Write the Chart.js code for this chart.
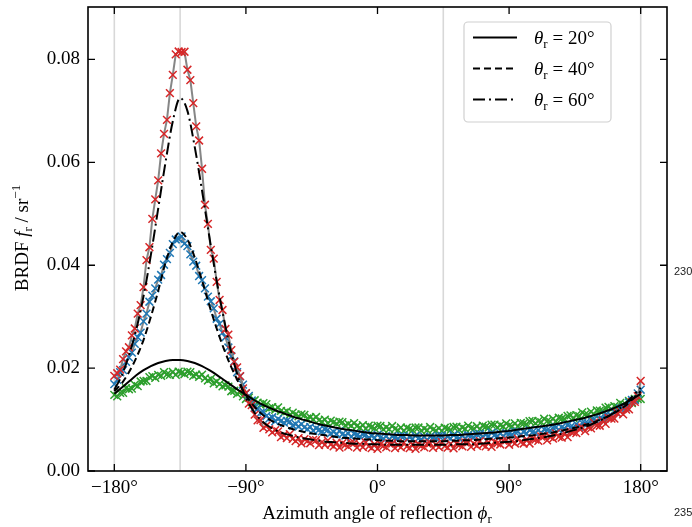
<!DOCTYPE html>
<html>
<head>
<meta charset="utf-8">
<script src="https://cdn.jsdelivr.net/npm/chart.js@4.4.0/dist/chart.umd.min.js"></script>
<style>
  html, body { margin: 0; padding: 0; background: #fff; }
  #wrap { width: 692px; height: 527px; }
</style>
</head>
<body>
<div id="wrap"><canvas id="brdf" width="692" height="527"></canvas></div>
<script>
// measured azimuth angles (deg)
const phiData = [
  -180, -178, -176, -174, -172, -170, -168, -166, -164, -162, -160, -158, -156,
  -154, -152, -150, -148, -146, -144, -142, -140, -138, -136, -134, -132, -130,
  -128, -126, -124, -122, -120, -118, -116, -114, -112, -110, -108, -106, -104,
  -102, -100, -98, -96, -94, -92, -90, -88, -86, -84, -82, -80, -78,
  -76, -74, -72, -70, -68, -66, -64, -62, -60, -58, -56, -54,
  -52, -50, -48, -46, -44, -42, -40, -38, -36, -34, -32, -30,
  -28, -26, -24, -22, -20, -18, -16, -14, -12, -10, -8, -6,
  -4, -2, 0, 2, 4, 6, 8, 10, 12, 14, 16, 18,
  20, 22, 24, 26, 28, 30, 32, 34, 36, 38, 40, 42,
  44, 46, 48, 50, 52, 54, 56, 58, 60, 62, 64, 66,
  68, 70, 72, 74, 76, 78, 80, 82, 84, 86, 88, 90,
  92, 94, 96, 98, 100, 102, 104, 106, 108, 110, 112, 114,
  116, 118, 120, 122, 124, 126, 128, 130, 132, 134, 136, 138,
  140, 142, 144, 146, 148, 150, 152, 154, 156, 158, 160, 162,
  164, 166, 168, 170, 172, 174, 176, 178, 180
];

// measured BRDF (sr^-1) for theta_r = 20, 40, 60 deg
const meas20 = [
  0.0148, 0.0145, 0.0152, 0.0152, 0.0161, 0.0159, 0.0160, 0.0168, 0.0165, 0.0174, 0.0175, 0.0175, 0.01825,
  0.01845, 0.0181, 0.0187, 0.0185, 0.0192, 0.0188, 0.0187, 0.01925, 0.0187, 0.0193, 0.0191, 0.01885, 0.0193,
  0.0192, 0.0185, 0.01875, 0.0183, 0.01875, 0.0180, 0.0176, 0.0179, 0.01705, 0.0174, 0.0169, 0.01645, 0.01665,
  0.0164, 0.0155, 0.0156, 0.0150, 0.0153, 0.0145, 0.0140, 0.01425, 0.0134, 0.01375, 0.0133, 0.0129, 0.0132,
  0.0130, 0.0122, 0.0124, 0.0119, 0.01235, 0.0117, 0.01135, 0.01165, 0.0109, 0.01135, 0.0110, 0.01065,
  0.0110, 0.0109, 0.0102, 0.01045, 0.01005, 0.0105, 0.0099, 0.0096, 0.0100, 0.0093, 0.0098, 0.0095,
  0.0092, 0.0096, 0.0095, 0.00885, 0.00915, 0.0088, 0.0093, 0.00875, 0.00845, 0.0089, 0.00825, 0.0088,
  0.00855, 0.0083, 0.0088, 0.00875, 0.0081, 0.0085, 0.00815, 0.00875, 0.0082, 0.00795, 0.00845, 0.0078,
  0.0084, 0.0082, 0.00795, 0.00845, 0.00845, 0.00785, 0.00825, 0.00795, 0.00855, 0.00805, 0.00785, 0.00835,
  0.0078, 0.0084, 0.0082, 0.0080, 0.00855, 0.0086, 0.0080, 0.00845, 0.0082, 0.0088, 0.00835, 0.0082,
  0.0087, 0.00815, 0.0088, 0.0086, 0.00845, 0.0090, 0.0090, 0.00845, 0.0089, 0.00865, 0.00925, 0.0088,
  0.00865, 0.00925, 0.0087, 0.00935, 0.00925, 0.0091, 0.0097, 0.00975, 0.00925, 0.0097, 0.0095, 0.01015,
  0.0097, 0.0096, 0.01015, 0.00965, 0.01035, 0.0102, 0.0101, 0.0107, 0.0108, 0.0103, 0.01085, 0.01065,
  0.0114, 0.0110, 0.0109, 0.01155, 0.01105, 0.0118, 0.01175, 0.0117, 0.0123, 0.01245, 0.0120, 0.0126,
  0.01245, 0.01325, 0.0129, 0.0129, 0.0136, 0.0132, 0.0140, 0.0140, 0.0140
];
const meas40 = [
  0.0169, 0.0177, 0.0192, 0.0196, 0.0212, 0.0221, 0.0230, 0.0247, 0.0260, 0.0269, 0.0291, 0.0306, 0.0329,
  0.0341, 0.0355, 0.0372, 0.0381, 0.0401, 0.0412, 0.0424, 0.0441, 0.0450, 0.0451, 0.0456, 0.0442, 0.0437,
  0.0421, 0.0407, 0.0399, 0.0379, 0.0371, 0.0355, 0.0339, 0.0330, 0.0316, 0.0296, 0.0286, 0.0269, 0.0260,
  0.0240, 0.0223, 0.0213, 0.0192, 0.0184, 0.0168, 0.0151, 0.0146, 0.0137, 0.0123, 0.0121, 0.0113, 0.0115,
  0.0107, 0.0102, 0.01045, 0.00965, 0.0101, 0.00975, 0.0094, 0.00975, 0.0096, 0.00885, 0.0091, 0.00865,
  0.0091, 0.0085, 0.00815, 0.00855, 0.00785, 0.0083, 0.0080, 0.0077, 0.0081, 0.0080, 0.0073, 0.0076,
  0.0072, 0.00775, 0.00715, 0.0069, 0.0073, 0.00665, 0.0072, 0.00695, 0.0067, 0.00715, 0.0071, 0.00645,
  0.0068, 0.0065, 0.00705, 0.0065, 0.0063, 0.00675, 0.00615, 0.0067, 0.0065, 0.0063, 0.0068, 0.00675,
  0.00615, 0.00655, 0.00625, 0.00685, 0.00635, 0.00615, 0.00665, 0.00605, 0.00665, 0.00645, 0.0063, 0.0068,
  0.0068, 0.0062, 0.00665, 0.00635, 0.0070, 0.0065, 0.00635, 0.00685, 0.0063, 0.00695, 0.0068, 0.0066,
  0.00715, 0.0072, 0.00665, 0.00705, 0.0068, 0.00745, 0.00695, 0.0068, 0.0073, 0.00675, 0.00735, 0.0072,
  0.00705, 0.0076, 0.00765, 0.0071, 0.00755, 0.0073, 0.00795, 0.00755, 0.0074, 0.00795, 0.0074, 0.0081,
  0.00795, 0.00785, 0.0084, 0.0085, 0.0080, 0.0085, 0.00825, 0.00895, 0.00855, 0.00845, 0.0091, 0.0086,
  0.00935, 0.0093, 0.00925, 0.0099, 0.01005, 0.0096, 0.0102, 0.0101, 0.01095, 0.01065, 0.0107, 0.0115,
  0.0112, 0.01215, 0.01225, 0.0124, 0.01335, 0.0138, 0.0138, 0.0151, 0.0158
];
const meas60 = [
  0.0185, 0.0190, 0.0197, 0.02175, 0.02325, 0.02405, 0.02635, 0.0277, 0.0306, 0.03225, 0.03575, 0.0410, 0.0435,
  0.0490, 0.0528, 0.0565, 0.06175, 0.06555, 0.06825, 0.07345, 0.0770, 0.0810, 0.08155, 0.08145, 0.0815, 0.0780,
  0.0760, 0.0715, 0.0670, 0.06425, 0.05875, 0.05175, 0.04805, 0.0430, 0.0413, 0.03675, 0.03325, 0.0313, 0.0276,
  0.0265, 0.0235, 0.0212, 0.02015, 0.01845, 0.01605, 0.01515, 0.0131, 0.0128, 0.01095, 0.00985, 0.0099, 0.0084,
  0.0088, 0.0081, 0.0075, 0.00795, 0.0077, 0.0066, 0.0070, 0.0064, 0.00715, 0.00625, 0.0058, 0.0064,
  0.0054, 0.0062, 0.0058, 0.0054, 0.00605, 0.0060, 0.00505, 0.0056, 0.0051, 0.00595, 0.00515, 0.0048,
  0.0055, 0.00455, 0.0054, 0.0051, 0.00475, 0.0055, 0.00545, 0.00455, 0.00515, 0.00465, 0.00555, 0.0048,
  0.00445, 0.0052, 0.0043, 0.0052, 0.0049, 0.0046, 0.00535, 0.00535, 0.00445, 0.00505, 0.0046, 0.0055,
  0.00475, 0.00445, 0.0052, 0.0043, 0.0052, 0.0049, 0.0046, 0.00535, 0.0054, 0.0045, 0.0051, 0.00465,
  0.0056, 0.00485, 0.00455, 0.0053, 0.0044, 0.00535, 0.00505, 0.0048, 0.00555, 0.00555, 0.0047, 0.0053,
  0.0049, 0.0058, 0.0051, 0.0048, 0.0056, 0.0047, 0.00565, 0.0054, 0.00515, 0.0059, 0.00595, 0.0051,
  0.00575, 0.00535, 0.0063, 0.0056, 0.00535, 0.00615, 0.00535, 0.0063, 0.0061, 0.00585, 0.0067, 0.00675,
  0.00595, 0.00665, 0.0063, 0.0073, 0.00665, 0.0065, 0.00735, 0.0066, 0.00765, 0.0075, 0.00735, 0.00825,
  0.00845, 0.00775, 0.00855, 0.0083, 0.0094, 0.00885, 0.0088, 0.0098, 0.00915, 0.0103, 0.0102, 0.0102,
  0.01125, 0.01155, 0.0110, 0.01195, 0.0120, 0.0134, 0.01345, 0.01455, 0.0175
];

// fitted model curves (deg, sr^-1)
const phiModel = [
  -180, -175, -170, -165, -160, -155, -150, -145, -140, -135, -130, -125, -120, -115, -110, -105, -100, -95, -90,
  -85, -80, -75, -70, -65, -60, -55, -50, -45, -40, -35, -30, -25, -20, -15, -10, -5, 0,
  5, 10, 15, 20, 25, 30, 35, 40, 45, 50, 55, 60, 65, 70, 75, 80, 85, 90,
  95, 100, 105, 110, 115, 120, 125, 130, 135, 140, 145, 150, 155, 160, 165, 170, 175, 180
];
const model20 = [
  0.0150, 0.0162, 0.0174, 0.0186, 0.0196, 0.0204, 0.0210, 0.0214, 0.0216, 0.0216, 0.0214, 0.0210, 0.0204, 0.0196, 0.0187, 0.0177, 0.0167, 0.0157, 0.0148,
  0.0139, 0.0131, 0.0124, 0.0118, 0.0113, 0.0108, 0.0103, 0.0099, 0.0095, 0.0091, 0.0088, 0.0085, 0.0082, 0.0080, 0.0078, 0.0076, 0.0074, 0.0073,
  0.0072, 0.0071, 0.0070, 0.0070, 0.0069, 0.0069, 0.0069, 0.0069, 0.0069, 0.0070, 0.0070, 0.0071, 0.0072, 0.0073, 0.0074, 0.0075, 0.0077, 0.0078,
  0.0080, 0.0082, 0.0084, 0.0086, 0.0088, 0.0090, 0.0093, 0.0096, 0.0099, 0.0102, 0.0106, 0.0110, 0.0115, 0.0120, 0.0126, 0.0133, 0.0141, 0.0150
];
const model40 = [
  0.0155, 0.0170, 0.0192, 0.0220, 0.0255, 0.0300, 0.0350, 0.0405, 0.0445, 0.0465, 0.0450, 0.0415, 0.0370, 0.0322, 0.0277, 0.0237, 0.0202, 0.0172, 0.0147,
  0.0128, 0.0113, 0.0102, 0.0094, 0.0088, 0.0083, 0.0079, 0.0076, 0.0073, 0.0071, 0.0069, 0.0067, 0.0065, 0.0064, 0.0063, 0.0062, 0.0061, 0.0060,
  0.0059, 0.0059, 0.0058, 0.0058, 0.0058, 0.0058, 0.0058, 0.0058, 0.0058, 0.0059, 0.0059, 0.0060, 0.0060, 0.0061, 0.0062, 0.0063, 0.0064, 0.0065,
  0.0066, 0.0068, 0.0069, 0.0071, 0.0073, 0.0075, 0.0078, 0.0081, 0.0084, 0.0088, 0.0092, 0.0097, 0.0103, 0.0110, 0.0118, 0.0128, 0.0141, 0.0155
];
const model60 = [
  0.0158, 0.0185, 0.0225, 0.0275, 0.0340, 0.0420, 0.0510, 0.0600, 0.0680, 0.0725, 0.0700, 0.0630, 0.0545, 0.0455, 0.0370, 0.0295, 0.0230, 0.0180, 0.0143,
  0.0117, 0.0100, 0.0088, 0.0080, 0.0074, 0.0070, 0.0066, 0.0063, 0.0061, 0.0059, 0.0057, 0.0056, 0.0055, 0.0054, 0.0053, 0.0053, 0.0052, 0.0052,
  0.0051, 0.0051, 0.0051, 0.0051, 0.0051, 0.0051, 0.0051, 0.0051, 0.0051, 0.0051, 0.0052, 0.0052, 0.0052, 0.0053, 0.0054, 0.0055, 0.0056, 0.0057,
  0.0058, 0.0060, 0.0062, 0.0064, 0.0066, 0.0069, 0.0072, 0.0076, 0.0080, 0.0084, 0.0089, 0.0095, 0.0102, 0.0110, 0.0120, 0.0132, 0.0147, 0.0162
];

const xTicks = [-180, -90, 0, 90, 180];
const yTicks = [0, 0.02, 0.04, 0.06, 0.08];
const guideLines = [-180, -135, 45, 180];
const legendAngles = ['20', '40', '60'];
const legendDashes = [[], [7, 4], [12, 4, 2, 4]];

const SERIF = '"Liberation Serif", "DejaVu Serif", serif';
const FONT = '19px ' + SERIF;
const IFONT = 'italic 19px ' + SERIF;
const SFONT = '13px ' + SERIF;

function pts(xs, ys) {
  return xs.map((v, i) => ({ x: v, y: ys[i] }));
}

function measDataset(ys, color, order) {
  return {
    data: pts(phiData, ys),
    showLine: true,
    borderColor: 'rgba(128,128,128,0.95)',
    borderWidth: 2,
    tension: 0,
    pointStyle: 'crossRot',
    pointRadius: 5.5,
    pointBorderWidth: 1.5,
    pointBorderColor: color,
    pointBackgroundColor: color,
    order: order
  };
}

function modelDataset(ys, dash) {
  return {
    data: pts(phiModel, ys),
    showLine: true,
    borderColor: '#000',
    borderWidth: 2,
    borderDash: dash,
    pointRadius: 0,
    tension: 0.4,
    cubicInterpolationMode: 'monotone',
    order: 0
  };
}

// writes parts side by side; x is the center (or left edge), y the baseline
function richText(ctx, parts, x, y, align) {
  const widths = parts.map(p => { ctx.font = p.font; return ctx.measureText(p.t).width; });
  const total = widths.reduce((a, b) => a + b, 0);
  let cx = align === 'left' ? x : x - total / 2;
  ctx.textAlign = 'left';
  ctx.textBaseline = 'alphabetic';
  parts.forEach((p, i) => {
    ctx.font = p.font;
    ctx.fillText(p.t, cx, y + (p.dy || 0));
    cx += widths[i];
  });
}

const decor = {
  id: 'decor',
  beforeDatasetsDraw(chart) {
    const { ctx, chartArea: a, scales: { x } } = chart;
    ctx.save();
    ctx.strokeStyle = '#d8d8d8';
    ctx.lineWidth = 1.6;
    guideLines.forEach(v => {
      const px = x.getPixelForValue(v);
      ctx.beginPath();
      ctx.moveTo(px, a.top);
      ctx.lineTo(px, a.bottom);
      ctx.stroke();
    });
    ctx.restore();
  },
  afterDatasetsDraw(chart) {
    const { ctx, chartArea: a, scales: { x, y } } = chart;
    ctx.save();
    // frame
    ctx.strokeStyle = '#000';
    ctx.lineWidth = 1.6;
    ctx.strokeRect(a.left, a.top, a.right - a.left, a.bottom - a.top);
    // inward ticks on all four sides
    const tl = 7;
    ctx.lineWidth = 1.3;
    ctx.beginPath();
    xTicks.forEach(v => {
      const px = x.getPixelForValue(v);
      ctx.moveTo(px, a.bottom); ctx.lineTo(px, a.bottom - tl);
      ctx.moveTo(px, a.top); ctx.lineTo(px, a.top + tl);
    });
    yTicks.forEach(v => {
      const py = y.getPixelForValue(v);
      ctx.moveTo(a.left, py); ctx.lineTo(a.left + tl, py);
      ctx.moveTo(a.right, py); ctx.lineTo(a.right - tl, py);
    });
    ctx.stroke();

    // legend
    const bx = 464, by = 22, bw = 147, bh = 100;
    ctx.beginPath();
    ctx.roundRect(bx, by, bw, bh, 4);
    ctx.fillStyle = 'rgba(255,255,255,0.85)';
    ctx.fill();
    ctx.strokeStyle = '#d0d0d0';
    ctx.lineWidth = 1.2;
    ctx.stroke();
    legendAngles.forEach((ang, i) => {
      const ly = 37.5 + i * 31;
      ctx.strokeStyle = '#000';
      ctx.lineWidth = 2;
      ctx.setLineDash(legendDashes[i]);
      ctx.beginPath();
      ctx.moveTo(473, ly);
      ctx.lineTo(517, ly);
      ctx.stroke();
      ctx.setLineDash([]);
      ctx.fillStyle = '#000';
      richText(ctx, [
        { t: 'θ', font: IFONT },
        { t: 'r', font: SFONT, dy: 4 },
        { t: ' = ' + ang + '°', font: FONT }
      ], 534, ly + 6.5, 'left');
    });
    ctx.restore();
  },
  afterDraw(chart) {
    const { ctx } = chart;
    ctx.save();
    ctx.fillStyle = '#000';
    // x axis title
    richText(ctx, [
      { t: 'Azimuth angle of reflection ', font: FONT },
      { t: 'ϕ', font: IFONT },
      { t: 'r', font: SFONT, dy: 4 }
    ], 377, 519);
    // y axis title
    ctx.translate(28, 238);
    ctx.rotate(-Math.PI / 2);
    richText(ctx, [
      { t: 'BRDF ', font: FONT },
      { t: 'f', font: IFONT },
      { t: 'r', font: SFONT, dy: 4 },
      { t: ' / sr', font: FONT },
      { t: '−1', font: SFONT, dy: -8 }
    ], 0, 0);
    ctx.restore();
    // page line numbers
    ctx.save();
    ctx.fillStyle = '#222';
    ctx.font = '11px "Liberation Sans", sans-serif';
    ctx.textBaseline = 'middle';
    ctx.fillText('230', 674, 272);
    ctx.fillText('235', 674, 513);
    ctx.restore();
  }
};

new Chart(document.getElementById('brdf'), {
  type: 'scatter',
  data: {
    datasets: [
      modelDataset(model20, []),
      modelDataset(model40, [7, 4]),
      modelDataset(model60, [12, 4, 2, 4]),
      measDataset(meas60, '#d62728', 1),
      measDataset(meas40, '#1f77b4', 2),
      measDataset(meas20, '#2ca02c', 3)
    ]
  },
  options: {
    responsive: false,
    devicePixelRatio: 1,
    animation: false,
    layout: { padding: { top: 6, right: 25, left: 0, bottom: 0 } },
    plugins: {
      legend: { display: false },
      tooltip: { enabled: false }
    },
    scales: {
      x: {
        type: 'linear',
        min: -198,
        max: 198,
        afterBuildTicks: s => { s.ticks = xTicks.map(v => ({ value: v })); },
        afterFit: s => { s.height = 56; s.paddingLeft = 0; s.paddingRight = 0; },
        grid: { display: false, drawTicks: false },
        border: { display: false },
        ticks: {
          padding: 6,
          maxRotation: 0,
          autoSkip: false,
          color: '#000',
          font: { family: SERIF, size: 19 },
          callback: v => (v < 0 ? '−' : '') + Math.abs(v) + '°'
        }
      },
      y: {
        type: 'linear',
        min: 0,
        max: 0.0902,
        afterBuildTicks: s => { s.ticks = yTicks.map(v => ({ value: v })); },
        afterFit: s => { s.width = 88; s.paddingTop = 0; s.paddingBottom = 0; },
        grid: { display: false, drawTicks: false },
        border: { display: false },
        ticks: {
          padding: 8,
          color: '#000',
          font: { family: SERIF, size: 19 },
          callback: v => v.toFixed(2)
        }
      }
    }
  },
  plugins: [decor]
});
</script>
</body>
</html>
